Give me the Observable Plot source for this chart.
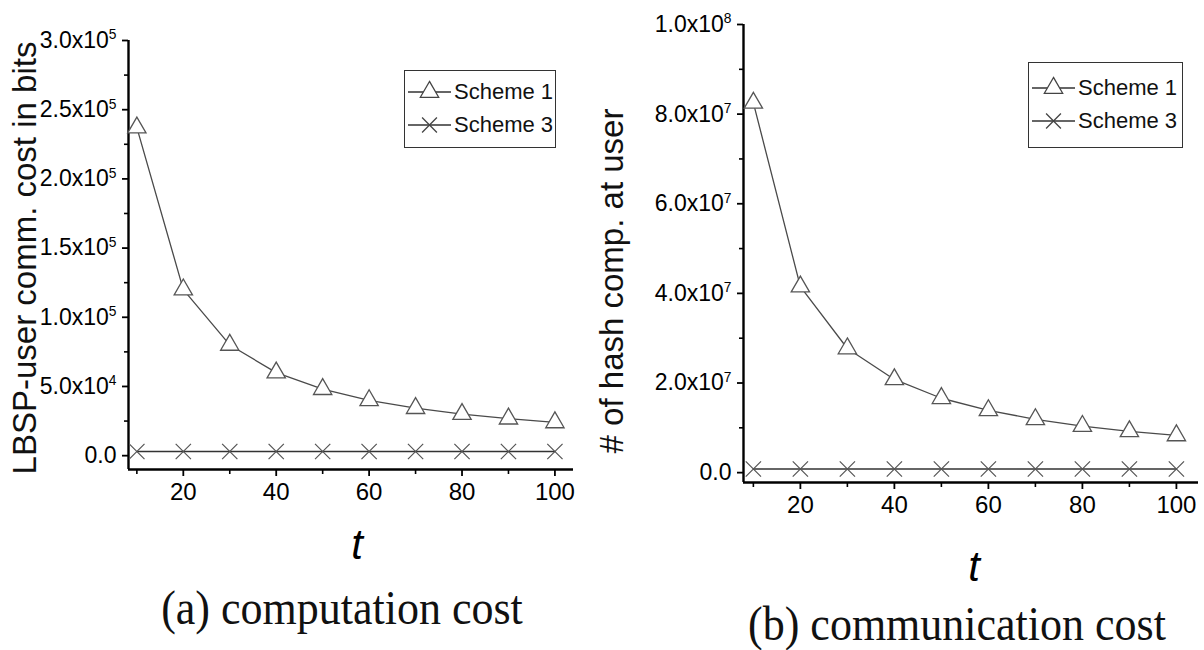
<!DOCTYPE html>
<html><head><meta charset="utf-8">
<script src="https://cdn.jsdelivr.net/npm/d3@7"></script>
<script src="https://cdn.jsdelivr.net/npm/@observablehq/plot@0.6"></script>
<style>
body{margin:0;background:#fff;}
#wrap{position:relative;width:1204px;height:650px;overflow:hidden;background:#fff;}
.panel{position:absolute;top:0;}
.tlab{position:absolute;font-family:"Liberation Sans",Arial,sans-serif;font-style:italic;font-size:42px;line-height:1;transform:translateX(-50%);color:#000;}
.cap{position:absolute;font-family:"Liberation Serif","Times New Roman",serif;font-size:44px;line-height:1;white-space:nowrap;color:#111;transform:translateX(-50%) scaleY(1.1);transform-origin:center top;}
.legend{position:absolute;border:1.5px solid #333;background:#fff;box-sizing:border-box;}
.legrow{position:absolute;left:0;height:32px;display:flex;align-items:center;white-space:nowrap;}
.legrow span{font-family:"Liberation Sans",Arial,sans-serif;font-size:22px;color:#111;margin-left:1px;}
</style>
</head><body>
<div id="wrap"></div>
<script>
// ---------- data ----------
const t = [10, 20, 30, 40, 50, 60, 70, 80, 90, 100];
const costScheme1 = [237000, 120000, 80000, 60000, 48000, 40000, 34300, 30000, 26700, 24000];
const costScheme3 = [3000, 3000, 3000, 3000, 3000, 3000, 3000, 3000, 3000, 3000];
const hashScheme1 = [82500000, 41500000, 27700000, 20800000, 16600000, 13900000, 11900000, 10400000, 9200000, 8300000];
const hashScheme3 = [800000, 800000, 800000, 800000, 800000, 800000, 800000, 800000, 800000, 800000];

const xMajorTicks = [20, 40, 60, 80, 100];
const xMinorTicks = [10, 30, 50, 70, 90];
const yTicksA = [0, 50000, 100000, 150000, 200000, 250000, 300000];
const yLabelsA = ["0.0", "5.0x10^4", "1.0x10^5", "1.5x10^5", "2.0x10^5", "2.5x10^5", "3.0x10^5"];
const yMinorA = [25000, 75000, 125000, 175000, 225000, 275000];
const yTicksB = [0, 20000000, 40000000, 60000000, 80000000, 100000000];
const yLabelsB = ["0.0", "2.0x10^7", "4.0x10^7", "6.0x10^7", "8.0x10^7", "1.0x10^8"];
const yMinorB = [10000000, 30000000, 50000000, 70000000, 90000000];

const seriesNames = ["Scheme 1", "Scheme 3"];
const yTitles = ["LBSP-user comm. cost in bits", "# of hash comp. at user"];
const xTitle = "t";
const captions = ["(a) computation cost", "(b) communication cost"];

const SANS = '"Liberation Sans",Arial,sans-serif';

function rows(ys) { return t.map((x, i) => ({t: x, v: ys[i]})); }

function makePanel(cfg) {
  const s1 = rows(cfg.s1), s3 = rows(cfg.s3);
  const plot = Plot.plot({
    width: cfg.width, height: cfg.height,
    marginLeft: cfg.ml, marginRight: cfg.mr, marginTop: cfg.mt, marginBottom: cfg.mb,
    style: {fontFamily: SANS, background: "transparent", color: "#000", overflow: "visible"},
    x: {domain: cfg.xDomain, label: null},
    y: {domain: cfg.yDomain, label: null},
    marks: [
      Plot.axisX(xMajorTicks, {tickSize: 7, tickPadding: 6, fontSize: 24, strokeWidth: 1.8, tickFormat: d => String(d), label: null}),
      Plot.axisX(xMinorTicks, {tickSize: 5, strokeWidth: 1.6, tickFormat: () => "", label: null}),
      Plot.axisY(cfg.yTicks, {tickSize: 6, tickPadding: 6, fontSize: 23, strokeWidth: 1.8,
        tickFormat: d => cfg.yLabels[cfg.yTicks.indexOf(d)], label: null}),
      Plot.axisY(cfg.yMinor, {tickSize: 4, strokeWidth: 1.6, tickFormat: () => "", label: null}),
      Plot.ruleX([cfg.xDomain[0]], {stroke: "#000", strokeWidth: 2.4}),
      Plot.ruleY([cfg.yDomain[0]], {stroke: "#000", strokeWidth: 2.4}),
      Plot.line(s3, {x: "t", y: "v", stroke: "#333", strokeWidth: 1.4}),
      Plot.dot(s3, {x: "t", y: "v", symbol: "times", r: 7, stroke: "#555", strokeWidth: 1.2}),
      Plot.line(s1, {x: "t", y: "v", stroke: "#4a4a4a", strokeWidth: 1.3}),
      Plot.dot(s1, {x: "t", y: "v", symbol: "triangle", r: 6.8, stroke: "#555", fill: "#fff", strokeWidth: 1.3})
    ]
  });
  // superscripts on tick labels
  d3.select(plot).selectAll("text").each(function() {
    const txt = this.textContent;
    if (txt.includes("^")) {
      const [a, b] = txt.split("^");
      const sel = d3.select(this);
      sel.text(a);
      sel.append("tspan").attr("dy", "-0.62em").attr("font-size", "0.6em").text(b);
    }
  });
  // y axis title
  d3.select(plot).append("text")
    .attr("transform", `translate(${cfg.titleX},${cfg.titleY}) rotate(-90)`)
    .attr("text-anchor", "middle")
    .attr("font-family", SANS)
    .attr("font-size", 33)
    .attr("fill", "#111")
    .text(cfg.title);
  const div = document.createElement("div");
  div.className = "panel";
  div.style.left = cfg.left + "px";
  div.appendChild(plot);
  return div;
}

function makeLegend(left, top, w, h) {
  const box = document.createElement("div");
  box.className = "legend";
  Object.assign(box.style, {left: left + "px", top: top + "px", width: w + "px", height: h + "px"});
  const syms = [d3.symbolTriangle, d3.symbolTimes];
  seriesNames.forEach((name, i) => {
    const row = document.createElement("div");
    row.className = "legrow";
    row.style.top = (h / 2 - 34 + i * 33) + "px";
    const svg = d3.create("svg").attr("width", 48).attr("height", 32);
    svg.append("line").attr("x1", 3).attr("x2", 46).attr("y1", 16).attr("y2", 16)
      .attr("stroke", "#333").attr("stroke-width", 1.3);
    svg.append("path").attr("transform", "translate(24.5,16)")
      .attr("d", d3.symbol(syms[i], Math.PI * 6.8 * 6.8)())
      .attr("fill", i === 0 ? "#fff" : "none").attr("stroke", "#444").attr("stroke-width", 1.3);
    row.appendChild(svg.node());
    const sp = document.createElement("span");
    sp.textContent = name;
    row.appendChild(sp);
    box.appendChild(row);
  });
  return box;
}

function addText(cls, text, x, y) {
  const d = document.createElement("div");
  d.className = cls;
  d.textContent = text;
  d.style.left = x + "px";
  d.style.top = y + "px";
  return d;
}

const wrap = document.getElementById("wrap");
wrap.appendChild(makePanel({
  left: 0, width: 590, height: 510, ml: 128, mr: 17, mt: 40, mb: 41,
  xDomain: [8.2, 104], yDomain: [-10000, 300000],
  yTicks: yTicksA, yLabels: yLabelsA, yMinor: yMinorA,
  s1: costScheme1, s3: costScheme3,
  title: yTitles[0], titleX: 36, titleY: 258
}));
wrap.appendChild(makePanel({
  left: 590, width: 614, height: 520, ml: 153, mr: 6, mt: 24, mb: 38,
  xDomain: [7.9, 104.7], yDomain: [-2200000, 100000000],
  yTicks: yTicksB, yLabels: yLabelsB, yMinor: yMinorB,
  s1: hashScheme1, s3: hashScheme3,
  title: yTitles[1], titleX: 33, titleY: 281
}));
wrap.appendChild(makeLegend(404, 70, 152, 78));
wrap.appendChild(makeLegend(1028, 62, 155, 86));
wrap.appendChild(addText("tlab", xTitle, 357, 524));
wrap.appendChild(addText("tlab", xTitle, 974, 546));
wrap.appendChild(addText("cap", captions[0], 342, 584));
wrap.appendChild(addText("cap", captions[1], 957, 600));
</script>
</body></html>
